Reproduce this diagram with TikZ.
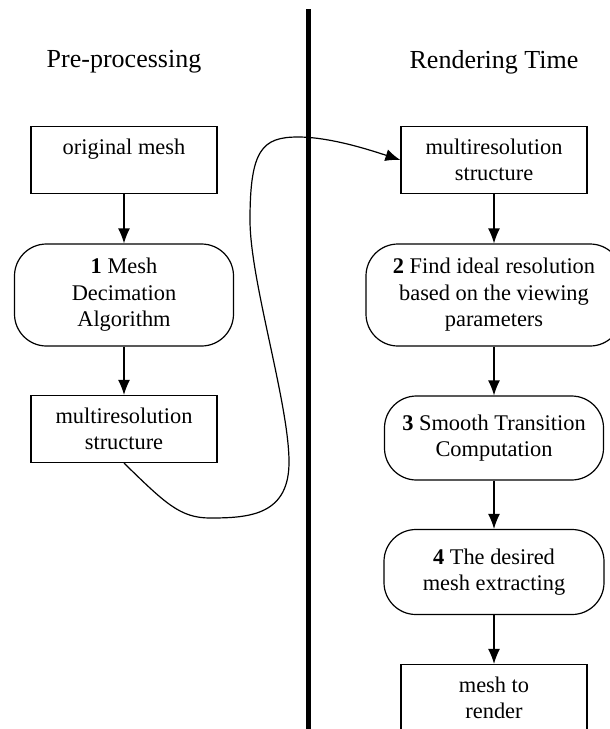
\documentclass[tikz,border=0pt]{standalone}
\usepackage{fontspec}
\setmainfont{Liberation Serif}
\usetikzlibrary{arrows.meta}

\tikzset{
  stepbox/.style={draw, line width=1.2pt, align=center, minimum width=186pt, minimum height=67pt, inner sep=2pt},
  steproundbox/.style={stepbox, rounded corners=32pt},
  flow/.style={line width=1.2pt, -{Latex[length=15pt,width=12pt]}},
  phase/.style={font=\fontsize{26}{30}\selectfont},
}

\begin{document}
\begin{tikzpicture}[x=1pt, y=-1pt, font=\fontsize{22.4}{26.5}\selectfont]
    \useasboundingbox (0,0) rectangle (610,729);

    % Phase titles and divider
    \node[phase] (pre) at (124,62) {Pre-processing};
    \node[phase] (rt) at (494,62) {Rendering Time};
    \draw[line width=5pt] (308,9) -- (308,729);

    % Pre-processing column
    \node[stepbox] (om) at (124,160) {original mesh\\~};
    \node[steproundbox, minimum width=219pt, minimum height=102pt] (dec) at (124,295) {\textbf{1} Mesh\\Decimation\\Algorithm};
    \node[stepbox] (lm) at (124,429) {multiresolution\\structure};

    % Rendering time column
    \node[stepbox] (rm) at (494,160) {multiresolution\\structure};
    \node[steproundbox, minimum width=256pt, minimum height=102pt] (res) at (494,295) {\textbf{2} Find ideal resolution\\based on the viewing\\parameters};
    \node[steproundbox, minimum width=219pt, minimum height=84pt] (st) at (494,438) {\textbf{3} Smooth Transition\\Computation};
    \node[steproundbox, minimum width=220pt, minimum height=85pt] (ext) at (494,572) {\textbf{4} The desired\\mesh extracting};
    \node[stepbox] (out) at (494,698) {mesh to\\render};

    % Arrows
    \draw[flow] (om) -- (dec);
    \draw[flow] (dec) -- (lm);
    \draw[flow] (rm) -- (res);
    \draw[flow] (res) -- (st);
    \draw[flow] (st) -- (ext);
    \draw[flow] (ext) -- (out);

    % Hand-over between the two phases
    \draw[flow] (lm.south) .. controls (165,503) and (180,518) .. (210,518)
        .. controls (250,518) and (290,515) .. (289,460)
        .. controls (288,400) and (250,280) .. (250,220)
        .. controls (250,150) and (262,137) .. (298,137)
        .. controls (330,137) and (370,150) .. (rm.west);
\end{tikzpicture}
\end{document}
